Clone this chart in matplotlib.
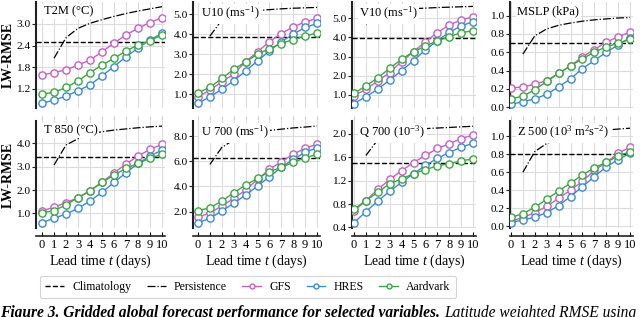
import numpy as np
import matplotlib
matplotlib.use('Agg')
from matplotlib import pyplot as plt
from matplotlib.lines import Line2D

plt.rcParams['font.family'] = ['Liberation Serif', 'DejaVu Serif']
plt.rcParams['mathtext.fontset'] = 'custom'
plt.rcParams['mathtext.rm'] = 'Liberation Serif'
plt.rcParams['mathtext.it'] = 'Liberation Serif:italic'
plt.rcParams['mathtext.bf'] = 'Liberation Serif:bold'

### Data
lead = list(range(11))
lead_pers = list(range(1, 11))

t2m_gfs = [1.59, 1.65, 1.73, 1.86, 2.00, 2.23, 2.47, 2.70, 2.88, 3.04, 3.18]
t2m_hres = [0.80, 0.89, 1.00, 1.15, 1.31, 1.56, 1.82, 2.09, 2.33, 2.56, 2.74]
t2m_aard = [1.06, 1.10, 1.24, 1.42, 1.65, 1.86, 2.05, 2.25, 2.42, 2.54, 2.70]
t2m_clim = 2.51
t2m_pers = [2.05, 2.62, 2.88, 3.02, 3.12, 3.21, 3.29, 3.36, 3.42, 3.48]

u10_gfs = [0.88, 1.21, 1.62, 2.01, 2.62, 3.12, 3.62, 4.03, 4.36, 4.61, 4.78]
u10_hres = [0.55, 0.88, 1.25, 1.68, 2.16, 2.66, 3.16, 3.62, 4.00, 4.33, 4.53]
u10_aard = [1.08, 1.35, 1.79, 2.24, 2.62, 3.00, 3.28, 3.53, 3.73, 3.90, 4.06]
u10_clim = 3.87
u10_pers = [3.90, 4.70, 5.00, 5.10, 5.17, 5.22, 5.26, 5.29, 5.31, 5.33]

v10_gfs = [0.95, 1.30, 1.73, 2.17, 2.74, 3.26, 3.78, 4.25, 4.65, 4.91, 5.08]
v10_hres = [0.55, 0.91, 1.30, 1.78, 2.27, 2.79, 3.35, 3.83, 4.27, 4.60, 4.83]
v10_aard = [1.09, 1.47, 1.90, 2.39, 2.86, 3.26, 3.55, 3.83, 4.04, 4.25, 4.35]
v10_clim = 3.97
v10_pers = [4.70, 5.15, 5.35, 5.45, 5.50, 5.53, 5.56, 5.58, 5.60, 5.62]

mslp_gfs = [0.21, 0.22, 0.25, 0.29, 0.37, 0.45, 0.55, 0.63, 0.71, 0.77, 0.82]
mslp_hres = [0.03, 0.06, 0.09, 0.14, 0.22, 0.31, 0.42, 0.51, 0.60, 0.68, 0.76]
mslp_aard = [0.09, 0.12, 0.19, 0.28, 0.37, 0.45, 0.53, 0.60, 0.66, 0.70, 0.74]
mslp_clim = 0.70
mslp_pers = [0.58, 0.78, 0.855, 0.895, 0.92, 0.94, 0.955, 0.965, 0.975, 0.98]

t850_gfs = [1.11, 1.26, 1.46, 1.67, 1.96, 2.33, 2.74, 3.11, 3.46, 3.74, 3.96]
t850_hres = [0.60, 0.79, 0.97, 1.21, 1.53, 1.90, 2.33, 2.74, 3.14, 3.46, 3.71]
t850_aard = [1.03, 1.11, 1.36, 1.67, 1.97, 2.33, 2.64, 2.93, 3.14, 3.36, 3.54]
t850_clim = 3.40
t850_pers = [3.07, 3.93, 4.20, 4.40, 4.50, 4.57, 4.62, 4.67, 4.71, 4.74]

u700_gfs = [1.55, 1.91, 2.44, 3.06, 3.71, 4.56, 5.36, 5.96, 6.57, 7.02, 7.37]
u700_hres = [1.12, 1.47, 2.05, 2.66, 3.32, 4.03, 4.77, 5.52, 6.15, 6.71, 7.07]
u700_aard = [2.07, 2.31, 2.84, 3.50, 4.11, 4.64, 5.17, 5.52, 5.91, 6.28, 6.55]
u700_clim = 6.28
u700_pers = [5.75, 7.10, 7.70, 8.00, 8.20, 8.45, 8.55, 8.65, 8.72, 8.80]

q700_gfs = [0.68, 0.86, 1.05, 1.22, 1.37, 1.51, 1.63, 1.75, 1.83, 1.92, 1.98]
q700_hres = [0.48, 0.67, 0.85, 1.02, 1.17, 1.32, 1.46, 1.58, 1.68, 1.77, 1.84]
q700_aard = [0.71, 0.86, 1.00, 1.15, 1.23, 1.32, 1.39, 1.45, 1.49, 1.54, 1.57]
q700_clim = 1.50
q700_pers = [1.63, 1.90, 2.00, 2.04, 2.07, 2.09, 2.10, 2.11, 2.12, 2.13]

z500_gfs = [0.056, 0.097, 0.15, 0.22, 0.31, 0.40, 0.50, 0.62, 0.71, 0.81, 0.88]
z500_hres = [0.04, 0.07, 0.10, 0.15, 0.23, 0.33, 0.44, 0.55, 0.66, 0.74, 0.81]
z500_aard = [0.097, 0.14, 0.21, 0.30, 0.39, 0.48, 0.57, 0.65, 0.71, 0.78, 0.83]
z500_clim = 0.80
z500_pers = [0.60, 0.83, 0.92, 0.97, 1.00, 1.03, 1.05, 1.07, 1.08, 1.09]

titles = ['T2M (°C)', 'U10 (ms$^{-1}$)', 'V10 (ms$^{-1}$)', 'MSLP (kPa)',
          'T 850 (°C)', 'U 700 (ms$^{-1}$)', 'Q 700 (10$^{-3}$)', 'Z 500 (10$^{3}$ m$^{2}$s$^{-2}$)']
yticks = [[1.2, 1.8, 2.4, 3.0], [1, 2, 3, 4, 5], [1, 2, 3, 4, 5], [0, 0.2, 0.4, 0.6, 0.8, 1.0],
          [1, 2, 3, 4], [2, 4, 6, 8], [0.4, 0.8, 1.2, 1.6, 2.0], [0, 0.2, 0.4, 0.6, 0.8, 1.0]]
ylims = [(0.67, 3.61), (0.32, 5.6), (0.32, 5.85), (-0.01, 1.15),
         (0.37, 4.96), (0.7, 9.2), (0.39, 2.22), (-0.02, 1.17)]

gfs = [t2m_gfs, u10_gfs, v10_gfs, mslp_gfs, t850_gfs, u700_gfs, q700_gfs, z500_gfs]
hres = [t2m_hres, u10_hres, v10_hres, mslp_hres, t850_hres, u700_hres, q700_hres, z500_hres]
aard = [t2m_aard, u10_aard, v10_aard, mslp_aard, t850_aard, u700_aard, q700_aard, z500_aard]
clim = [t2m_clim, u10_clim, v10_clim, mslp_clim, t850_clim, u700_clim, q700_clim, z500_clim]
pers = [t2m_pers, u10_pers, v10_pers, mslp_pers, t850_pers, u700_pers, q700_pers, z500_pers]

c_gfs = '#c95fc6'
c_hres = '#3a8bd4'
c_aard = '#3aa83e'

### Layout (pixels)
W, H = 640, 317
fig = plt.figure(figsize=(W / 100, H / 100), dpi=100)
spine_x = [36, 193, 352, 510]
x0_px = [42, 198, 354, 511]
x10_px = [162, 317, 473, 630]
rows_px = [(2, 108), (121, 228)]

mk = dict(marker='o', markersize=5.2, markerfacecolor='white', markeredgewidth=1.0, lw=1.0)

for i in range(8):
    r, c = divmod(i, 4)
    top, bot = rows_px[r]
    left = spine_x[c]
    right = x10_px[c] + 3
    ax = fig.add_axes([left / W, 1 - bot / H, (right - left) / W, (bot - top) / H])
    scale = (x10_px[c] - x0_px[c]) / 10
    ax.set_xlim((left - x0_px[c]) / scale, 10 + 3 / scale)
    ax.set_ylim(*ylims[i])

    ax.axhline(clim[i], color='k', ls='--', lw=1.0, zorder=3)
    ax.plot(lead_pers, pers[i], color='k', ls='-.', lw=0.9, zorder=3)
    ax.plot(lead, gfs[i], color=c_gfs, zorder=4, **mk)
    ax.plot(lead, hres[i], color=c_hres, zorder=4, **mk)
    ax.plot(lead, aard[i], color=c_aard, zorder=5, **mk)

    ax.text(0.06, 0.97, titles[i], transform=ax.transAxes, ha='left', va='top', fontsize=9,
            zorder=6, bbox=dict(facecolor='white', edgecolor='none', pad=1.0))

    ax.set_xticks(lead)
    ax.set_yticks(yticks[i])
    ax.set_yticklabels(['%.1f' % v for v in yticks[i]], fontsize=8.2)
    ax.grid(True, color='#dcdcdc', lw=0.8)
    ax.set_axisbelow(True)
    for s in ['top', 'right']:
        ax.spines[s].set_visible(False)
    ax.spines['left'].set_linewidth(1.5)
    ax.spines['left'].set_color('#222222')
    ax.tick_params(axis='y', length=3, width=0.8, pad=1, color='#222222')
    ax.spines['bottom'].set_position(('outward', 6))
    if r == 0:
        ax.spines['bottom'].set_visible(False)
        ax.tick_params(axis='x', length=3, width=0.8, color='#cccccc', labelbottom=False)
    else:
        ax.spines['bottom'].set_linewidth(1.2)
        ax.spines['bottom'].set_color('#222222')
        ax.tick_params(axis='x', length=3, width=0.8, direction='in', pad=2, labelsize=9)
        ax.set_xlabel('Lead time $\\mathit{t}$ (days)', fontsize=10, labelpad=1)
    if c == 0:
        ax.set_ylabel('LW-RMSE', fontsize=10, fontweight='bold')
        ax.yaxis.set_label_coords((15 - left) / (right - left), 0.5)

handles = [Line2D([], [], color='k', ls='--', lw=1.0),
           Line2D([], [], color='k', ls='-.', lw=0.9),
           Line2D([], [], color=c_gfs, **mk),
           Line2D([], [], color=c_hres, **mk),
           Line2D([], [], color=c_aard, **mk)]
labels = ['Climatology', 'Persistence', 'GFS', 'HRES', 'Aardvark']
for h in handles[2:]:
    h.set_markersize(3.5)
leg = fig.legend(handles, labels, loc='center', bbox_to_anchor=(248 / W, 1 - 287 / H), ncol=5,
                 fontsize=8.5, frameon=True, fancybox=True, handlelength=1.6, handletextpad=0.7,
                 columnspacing=1.3, borderpad=0.45)
leg.get_frame().set_edgecolor('#c8c8c8')
leg.get_frame().set_linewidth(0.8)

# caption (cut off at the bottom of the picture, as in the source page)
t1 = fig.text(0.0, 1 - 305 / H, 'Figure 3. Gridded global forecast performance for selected variables.',
              fontsize=11.2, fontweight='bold', fontstyle='italic', va='top', ha='left')
fig.canvas.draw()
bb = t1.get_window_extent()
fig.text((bb.x1 + 4) / W, 1 - 305 / H, 'Latitude weighted RMSE using',
         fontsize=11.2, fontstyle='italic', va='top', ha='left')

fig.savefig('out.png', dpi=100)
